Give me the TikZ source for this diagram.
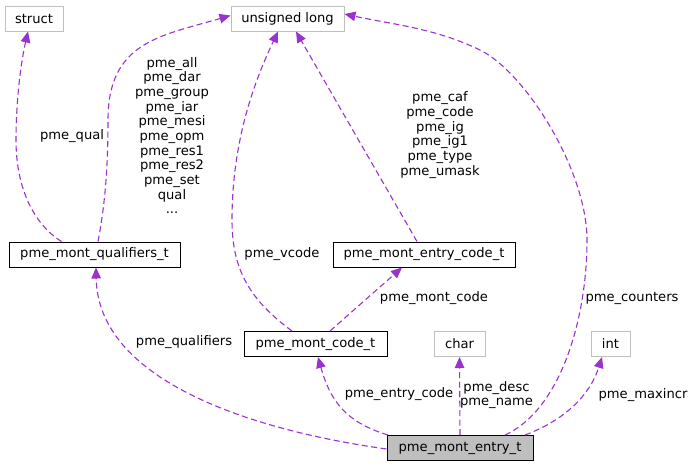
\documentclass[tikz,border=0pt]{standalone}
\usepackage{fontspec}
\setmainfont{DejaVu Sans}
\usetikzlibrary{arrows.meta}
\definecolor{edgecol}{HTML}{9A32CD}
\definecolor{lightframe}{HTML}{BFBFBF}
\begin{document}
\begin{tikzpicture}[x=1pt,y=-1pt,
  every node/.style={font=\fontsize{13.1}{14.67}\selectfont},
  cls/.style={draw=black,line width=1pt,minimum height=25pt,inner sep=0pt,fill=white},
  ext/.style={draw=lightframe,line width=1pt,minimum height=25pt,inner sep=0pt,fill=white},
  focus/.style={draw=black,line width=1pt,minimum height=25pt,inner sep=0pt,fill=lightframe},
  uses/.style={draw=edgecol,line width=1.1pt,dash pattern=on 6pt off 3.5pt,
    -{Triangle[length=11pt,width=9.5pt,fill=edgecol]}},
  lbl/.style={inner sep=0pt,align=center,text=black}]
\useasboundingbox (0,0) rectangle (693,467);

% classes and base types
\node[ext,minimum width=58pt]   (struct) at (34,18.5)    {struct};
\node[ext,minimum width=113pt]  (ulong)  at (287.5,18.5) {unsigned long};
\node[cls,minimum width=171pt]  (quals)  at (94.5,254.5) {pme\_mont\_qualifiers\_t};
\node[cls,minimum width=182pt]  (ecode)  at (424,254.5)  {pme\_mont\_entry\_code\_t};
\node[cls,minimum width=143pt]  (code)   at (315.5,344)  {pme\_mont\_code\_t};
\node[ext,minimum width=51pt]   (char)   at (459.5,344)  {char};
\node[ext,minimum width=39pt]   (int)    at (610.5,344)  {int};
\node[focus,minimum width=146pt] (entry) at (460,448)    {pme\_mont\_entry\_t};

% member relations
\draw[uses] ([xshift=-33pt]quals.north) .. controls (35,225) and (16,190) .. (16,140)
  .. controls (16,100) and (21,62) .. ([xshift=-6pt]struct.south);
\draw[uses] ([xshift=3.5pt]quals.north) .. controls (106,200) and (108,160) .. (108,120)
  .. controls (108,42) and (160,36) .. ([yshift=3pt]ulong.west);
\draw[uses] ([xshift=-23.5pt]code.north) .. controls (250,300) and (232,270) .. (232,220)
  .. controls (232,140) and (255,80) .. ([xshift=-9.5pt]ulong.south);
\draw[uses] ([xshift=-7pt]ecode.north) -- ([xshift=8.5pt]ulong.south);
\draw[uses] ([xshift=45pt]entry.north) .. controls (560,410) and (587,320) .. (587,240)
  .. controls (587,170) and (525,72) .. (480,50)
  .. controls (435,28) and (390,24) .. ([yshift=4.5pt]ulong.east);
\draw[uses] ([xshift=14.5pt]code.north) -- ([xshift=-22pt]ecode.south);
\draw[uses] ([yshift=-1pt]entry.west) .. controls (250,430) and (98,380) .. ([xshift=1.5pt]quals.south);
\draw[uses] ([xshift=-72pt]entry.north) .. controls (345,422) and (330,400) .. ([xshift=2.5pt]code.south);
\draw[uses] (entry.north) -- (char.south);
\draw[uses] ([xshift=65pt]entry.north) .. controls (565,420) and (590,395) .. ([xshift=-8.5pt]int.south);

% member names
\node[lbl] (lqual)   at (72,136)   {pme\_qual};
\node[lbl] (lqmembers) at (172,135.5) {pme\_all\\pme\_dar\\pme\_group\\pme\_iar\\pme\_mesi\\pme\_opm\\pme\_res1\\pme\_res2\\pme\_set\\qual\\...};
\node[lbl] (lvcode)  at (282,254)  {pme\_vcode};
\node[lbl] (lecmembers) at (440,135) {pme\_caf\\pme\_code\\pme\_ig\\pme\_ig1\\pme\_type\\pme\_umask};
\node[lbl] (lcount)  at (632,298)  {pme\_counters};
\node[lbl] (lmcode)  at (434,298)  {pme\_mont\_code};
\node[lbl] (lquals)  at (184,342)  {pme\_qualifiers};
\node[lbl] (lecode)  at (399,394)  {pme\_entry\_code};
\node[lbl] (lchar)   at (496.5,395) {pme\_desc\\pme\_name};
\node[lbl] (lmax)    at (643,395)  {pme\_maxincr};
\end{tikzpicture}
\end{document}
